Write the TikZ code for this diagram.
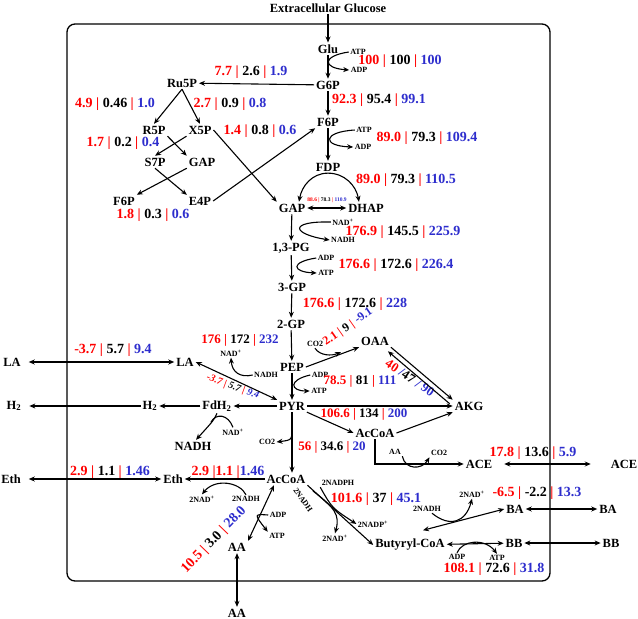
\documentclass[tikz,border=0pt]{standalone}
\usepackage{fontspec}
\setmainfont{Liberation Serif}
\usepackage{xcolor}
\usetikzlibrary{arrows, arrows.meta}
\definecolor{fblue}{RGB}{45,45,205}
\newcommand{\fl}[3]{\textcolor{red}{#1 |} #2 \textcolor{red}{|} \textcolor{fblue}{#3}}

\begin{document}
\begin{tikzpicture}[x=1pt, y=-1pt, line width=1.1pt, >={Stealth[length=6pt, width=5pt]},
    met/.style={font=\fontsize{12.5}{14}\selectfont\bfseries, inner sep=1.5pt},
    co/.style={font=\fontsize{8}{9}\selectfont\bfseries, inner sep=1pt},
    flux/.style={font=\fontsize{14}{16}\selectfont\bfseries, inner sep=0pt}]
      \useasboundingbox (0,0) rectangle (638,619);
      \draw[line width=1.3pt, rounded corners=8pt] (67,24) rectangle (550,581);

      \node[met] (ext) at (328,8) {Extracellular Glucose};
      \node[met] (glu) at (328,49) {Glu};
      \node[met] (g6p) at (328,85) {G6P};
      \node[met] (f6p) at (328,122) {F6P};
      \node[met] (fdp) at (328,167) {FDP};
      \node[met] (gap) at (292,208) {GAP};
      \node[met] (dhap) at (366,208) {DHAP};
      \node[met] (pg13) at (291,248) {1,3-PG};
      \node[met] (gp3) at (292,287) {3-GP};
      \node[met] (gp2) at (291,324) {2-GP};
      \node[met] (pep) at (292,367) {PEP};
      \node[met] (pyr) at (292,406) {PYR};
      \node[met] (oaa) at (375,341) {OAA};
      \node[met] (akg) at (469,406) {AKG};
      \node[met] (accoa1) at (375,433) {AcCoA};
      \node[met] (accoa2) at (286,479) {AcCoA};
      \node[met] (ace) at (479,464) {ACE};
      \node[met] (aceout) at (624,464) {ACE};
      \node[met] (ba) at (515,509) {BA};
      \node[met] (baout) at (608,509) {BA};
      \node[met] (bb) at (514,543) {BB};
      \node[met] (bbout) at (611,543) {BB};
      \node[met] (bcoa) at (410,545) {Butyryl-CoA};
      \node[met] (aa) at (237,547) {AA};
      \node[met] (aaout) at (237,613) {AA};
      \node[met] (eth) at (173,479) {Eth};
      \node[met] (ethout) at (11,479) {Eth};
      \node[met] (la) at (185,362) {LA};
      \node[met] (laout) at (12,362) {LA};
      \node[met] (fdh2) at (217,406) {FdH\textsubscript{2}};
      \node[met] (h2) at (150,406) {H\textsubscript{2}};
      \node[met] (h2out) at (14,406) {H\textsubscript{2}};
      \node[met] (nadh) at (193,446) {NADH};
      \node[met] (ru5p) at (182,83) {Ru5P};
      \node[met] (r5p) at (154,130) {R5P};
      \node[met] (x5p) at (200,130) {X5P};
      \node[met] (s7p) at (155,162) {S7P};
      \node[met] (gapp) at (202,162) {GAP};
      \node[met] (f6pp) at (124,201) {F6P};
      \node[met] (e4p) at (200,201) {E4P};

      \node[co] (atp1) at (358,52) {ATP};
      \node[co] (adp1) at (359,70) {ADP};
      \node[co] (atp2) at (364,130) {ATP};
      \node[co] (adp2) at (363,147) {ADP};
      \node[co] (nad1) at (343,222) {NAD\textsuperscript{+}};
      \node[co] (nadh1) at (343,240) {NADH};
      \node[co] (adp3) at (326,258) {ADP};
      \node[co] (atp3) at (326,273) {ATP};
      \node[co] (adp4) at (320,375) {ADP};
      \node[co] (atp4) at (319,391) {ATP};
      \node[co] (co2a) at (315,344) {CO2};
      \node[co] (nad2) at (231,353) {NAD\textsuperscript{+}};
      \node[co] (nadh2) at (266,375) {NADH};
      \node[co] (nad3) at (233,432) {NAD\textsuperscript{+}};
      \node[co] (co2b) at (267,442) {CO2};
      \node[co] (nad5) at (202,499) {2NAD\textsuperscript{+}};
      \node[co] (nadh3) at (246,499) {2NADH};
      \node[co] (adp6) at (278,515) {ADP};
      \node[co] (atp6) at (277,536) {ATP};
      \node[co, rotate=-56] (nadh5) at (303,500) {2NADH};
      \node[co] (nadph) at (338,483) {2NADPH};
      \node[co] (nadp) at (373,524) {2NADP\textsuperscript{+}};
      \node[co] (nad6) at (335,538) {2NAD\textsuperscript{+}};
      \node[co] (aa2) at (395,452) {AA};
      \node[co] (co2c) at (439,453) {CO2};
      \node[co] (nadh4) at (427,509) {2NADH};
      \node[co] (nad4) at (472,494) {2NAD\textsuperscript{+}};
      \node[co] (adp5) at (457,557) {ADP};
      \node[co] (atp5) at (497,558) {ATP};

      \node[flux] (v1) at (400,61) {\fl{100}{100}{100}};
      \node[flux] (v2) at (379,100) {\fl{92.3}{95.4}{99.1}};
      \node[flux] (v3) at (427,138) {\fl{89.0}{79.3}{109.4}};
      \node[flux] (v4) at (406,180) {\fl{89.0}{79.3}{110.5}};
      \node[flux, font=\fontsize{5.5}{6}\selectfont\bfseries] (v5) at (327,200) {\fl{88.6}{78.3}{110.9}};
      \node[flux] (v6) at (403,232) {\fl{176.9}{145.5}{225.9}};
      \node[flux] (v7) at (396,265) {\fl{176.6}{172.6}{226.4}};
      \node[flux] (v8) at (355,304) {\fl{176.6}{172.6}{228}};
      \node[flux, font=\fontsize{13}{15}\selectfont\bfseries] (v9) at (240,340) {\fl{176}{172}{232}};
      \node[flux, font=\fontsize{13}{15}\selectfont\bfseries] (v10) at (360,381) {\fl{78.5}{81}{111}};
      \node[flux, font=\fontsize{12}{14}\selectfont\bfseries, rotate=35] (v11) at (348,327) {\fl{2.1}{9}{-9.1}};
      \node[flux, font=\fontsize{13}{15}\selectfont\bfseries, rotate=-34] (v12) at (410,378) {\textcolor{red}{40} \textcolor{fblue}{/}47 \textcolor{fblue}{/ 90}};
      \node[flux, font=\fontsize{13}{15}\selectfont\bfseries] (v13) at (364,414) {\fl{106.6}{134}{200}};
      \node[flux, font=\fontsize{13}{15}\selectfont\bfseries] (v14) at (332,447) {\fl{56}{34.6}{20}};
      \node[flux, font=\fontsize{10}{12}\selectfont\bfseries\itshape, rotate=-20] (v15) at (233,387) {\fl{-3.7}{5.7}{9.4}};
      \node[flux] (v16) at (113,350) {\fl{-3.7}{5.7}{9.4}};
      \node[flux] (v17) at (228,472) {\textcolor{red}{2.9 |1.1 |}\textcolor{fblue}{1.46}};
      \node[flux] (v18) at (110,472) {\fl{2.9}{1.1}{1.46}};
      \node[flux, rotate=46] (v19) at (214,540) {\fl{10.5}{3.0}{28.0}};
      \node[flux] (v20) at (376,499) {\fl{101.6}{37}{45.1}};
      \node[flux] (v21) at (533,453) {\fl{17.8}{13.6}{5.9}};
      \node[flux] (v22) at (537,493) {\fl{-6.5}{-2.2}{13.3}};
      \node[flux] (v23) at (494,569) {\fl{108.1}{72.6}{31.8}};
      \node[flux] (v24) at (251,72) {\fl{7.7}{2.6}{1.9}};
      \node[flux] (v25) at (115,104) {\fl{4.9}{0.46}{1.0}};
      \node[flux] (v26) at (230,104) {\fl{2.7}{0.9}{0.8}};
      \node[flux] (v27) at (123,143) {\fl{1.7}{0.2}{0.4}};
      \node[flux] (v28) at (260,131) {\fl{1.4}{0.8}{0.6}};
      \node[flux] (v29) at (153,215) {\fl{1.8}{0.3}{0.6}};

      \coordinate (j1) at (341,352);
      \coordinate (j2) at (292,428);
      \coordinate (j3) at (211,422);
      \coordinate (j4) at (313,491);

      \draw[->] (ext) -- (glu);
      \draw[->] (glu) -- (g6p);
      \draw[->] (g6p) -- (f6p);
      \draw[->] (f6p) -- (fdp);
      \draw[->] (fdp.south) to[out=180, in=80] ([xshift=7]gap.north);
      \draw[->] (fdp.south) to[out=0, in=100] ([xshift=-7]dhap.north);
      \draw[<->] (gap) -- (dhap);
      \draw[->] (gap) -- (pg13);
      \draw[->] (pg13) -- (gp3);
      \draw[->] (gp3) -- (gp2);
      \draw[->] (gp2) -- (pep);
      \draw[->] (pep) -- (pyr);
      \draw[->] (atp1.west) .. controls (322,56) and (322,68) .. (adp1.west);
      \draw[->] (atp2.west) .. controls (322,132) and (322,146) .. (adp2.west);
      \draw[->] (nad1.west) .. controls (288,221) and (292,234) .. (nadh1.west);
      \draw[->] (adp3.west) .. controls (290,262) and (292,272) .. (atp3.west);
      \draw[->] (adp4.west) .. controls (288,380) and (290,391) .. (atp4.west);

      \draw[->] (g6p) -- (ru5p);
      \draw[->] (ru5p.south) -- (r5p.north);
      \draw[->] (ru5p.south) -- (x5p.north);
      \draw[->] (r5p.south east) -- (gapp.north west);
      \draw[->] (x5p.south west) -- (s7p.north);
      \draw[->] (gapp.south west) -- (f6pp.north east);
      \draw[->] (s7p.south) -- (e4p.north west);
      \draw[->] (x5p.east) -- (gap.north west);
      \draw[->] (e4p.east) -- (f6p.south west);

      \draw[->] (pep.east) -- (oaa.south west);
      \draw[->] (co2a.south) .. controls (320,356) and (332,356) .. (j1);
      \draw[->] (oaa.south east) -- (akg.north west);
      \draw[->] ([shift={(-3,4)}]akg.north west) -- ([shift={(-3,4)}]oaa.south east);
      \draw[->] (pyr) -- (akg);
      \draw[->] (pyr.south east) -- (accoa1.west);
      \draw[->] (accoa1.east) -- (akg.south west);
      \draw[->] (accoa1.south) |- (ace.west);
      \draw[->] (aa2.south east) .. controls (405,470) and (422,470) .. (co2c.south west);
      \draw[<->, shorten <=10pt, shorten >=18pt] (ace) -- (aceout);

      \draw[<->] (pyr.north west) -- (la.east);
      \draw[->] (nadh2.west) .. controls (240,378) and (232,372) .. (nad2.south);
      \draw[<->, shorten <=6pt] (laout) -- (la);
      \draw[->] (pyr) -- (fdh2);
      \draw[->] (fdh2) -- (h2);
      \draw[->, shorten >=6pt] (h2) -- (h2out);
      \draw[->] (fdh2.south) .. controls (214,420) .. ([xshift=3]nadh.north);
      \draw (nad3.north) .. controls (228,414) and (216,413) .. (j3);

      \draw[->] (pyr.south) -- (pyr.south |- accoa2.north);
      \draw[->] (j2) .. controls (292,440) .. (co2b.east);
      \draw[->] (accoa2) -- (eth);
      \draw[->] (nadh3.north) .. controls (240,482) and (215,478) .. (nad5.north);
      \draw[<->, shorten <=6pt] (ethout) -- (eth);
      \draw[<->] ([xshift=-12]accoa2.south) -- (aa.north east);
      \draw[->] (adp6.west) .. controls (254,514) .. (atp6.north west);
      \draw[<->] (aa) -- (aaout);

      \draw[->] (accoa2.south east) -- (bcoa.west);
      \draw[->] (nadph.south west) .. controls (332,508) .. (nadp.west);
      \draw[->] (j4) .. controls (335,508) and (340,515) .. (nad6.north);
      \draw[<->] ([shift={(13,-7)}]bcoa.north) -- (ba.west);
      \draw[->] ([xshift=5]nadh4.south) .. controls (450,528) and (466,522) .. (nad4.south);
      \draw[<->] (ba) -- (baout);
      \draw[<->] (bcoa) -- (bb);
      \draw[->] (adp5.north) .. controls (462,540) and (485,538) .. (atp5.north);
      \draw[<->] (bb) -- (bbout);
    \end{tikzpicture}
\end{document}
